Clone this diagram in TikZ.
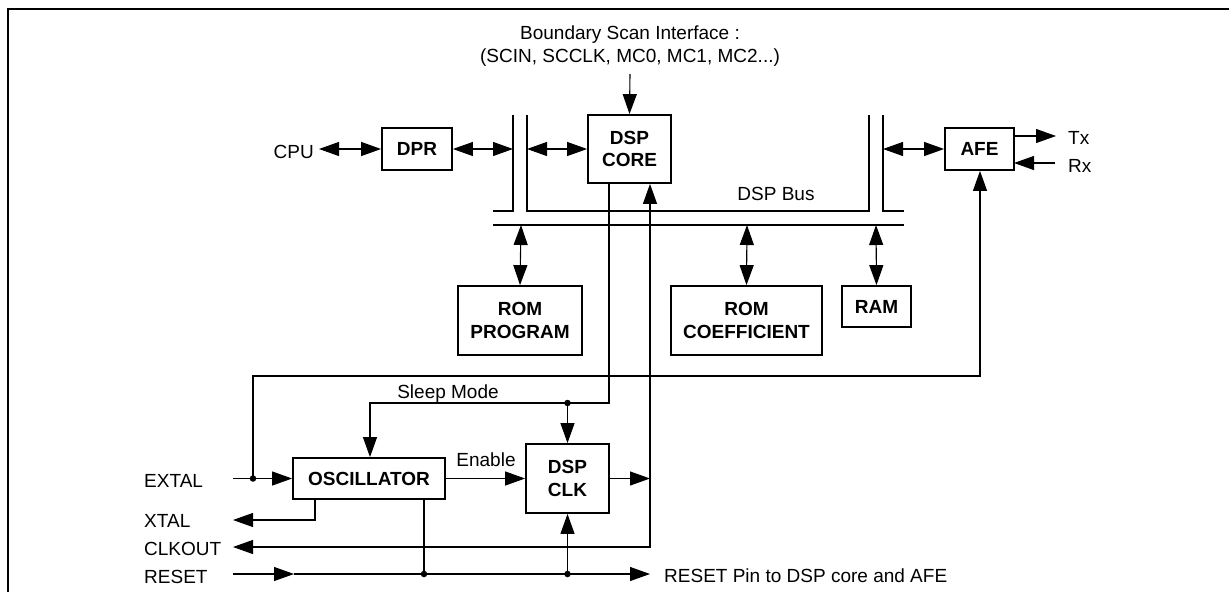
\documentclass[tikz,border=0pt]{standalone}
\usepackage{fontspec}
\setmainfont{Liberation Sans}
\usetikzlibrary{arrows.meta}
\begin{document}
\begin{tikzpicture}[x=1pt,y=-1pt,
  >={Triangle[length=20pt,width=14pt]},
  box/.style={draw,line width=1.8pt,inner sep=0pt,align=center,font=\bfseries\fontsize{19}{22.5}\selectfont},
  lbl/.style={inner sep=0pt,font=\fontsize{19}{23}\selectfont},
  conn/.style={line width=1.1pt},
  busline/.style={line width=1.4pt},
  dot/.style={circle,fill,inner sep=0pt,minimum size=6.5pt}
]
\useasboundingbox (0,0) rectangle (1229,592);
% frame
\draw[line width=2.6pt] (8,592) -- (8,9) -- (1229,9);

% boxes
\node[box,minimum width=70pt,minimum height=42pt] (dpr) at (417,149) {DPR};
\node[box,minimum width=83pt,minimum height=68pt] (core) at (629.5,149) {DSP\\CORE};
\node[box,minimum width=69pt,minimum height=42pt] (afe) at (979.5,149) {AFE};
\node[box,minimum width=124pt,minimum height=69pt] (rom) at (520,320.5) {ROM\\PROGRAM};
\node[box,minimum width=151pt,minimum height=69pt] (coef) at (746.5,320.5) {ROM\\COEFFICIENT};
\node[box,minimum width=69pt,minimum height=41pt] (ram) at (876.5,306.5) {RAM};
\node[box,minimum width=152pt,minimum height=41pt] (osc) at (369,478.5) {OSCILLATOR};
\node[box,minimum width=83pt,minimum height=69pt] (clk) at (567.5,478.5) {DSP\\CLK};

% labels
\node[lbl,anchor=base east] (cpu) at (314,158) {CPU};
\node[lbl,anchor=base] (bs1) at (630,39) {Boundary Scan Interface :};
\node[lbl,anchor=base] (bs2) at (630,62) {(SCIN, SCCLK, MC0, MC1, MC2...)};
\node[lbl,anchor=base] (busl) at (776,200) {DSP Bus};
\node[lbl,anchor=base west] (tx) at (1068,144) {Tx};
\node[lbl,anchor=base west] (rx) at (1068,172) {Rx};
\node[lbl,anchor=base] (sleep) at (448,398) {Sleep Mode};
\node[lbl,anchor=base] (en) at (486,466) {Enable};
\node[lbl,anchor=base west] (extal) at (144,487) {EXTAL};
\node[lbl,anchor=base west] (xtal) at (144,527) {XTAL};
\node[lbl,anchor=base west] (clkout) at (144,555) {CLKOUT};
\node[lbl,anchor=base west] (reset) at (144,583) {RESET};
\node[lbl,anchor=base west] (rpin) at (664,582) {RESET Pin to DSP core and AFE};

% coordinates
\coordinate (bsin) at (630,74);
\coordinate (cpuE) at (319,149);
\coordinate (b1) at (513,149);
\coordinate (b2) at (527,149);
\coordinate (b3) at (883,149);
\coordinate (txE) at (1056,136);
\coordinate (txS) at (1014,136);
\coordinate (rxS) at (1055,163);
\coordinate (rxE) at (1014,163);
\coordinate (r1) at (521,225);
\coordinate (r2) at (747,225);
\coordinate (r3) at (876,225);
\coordinate (inL) at (233,478.5);
\coordinate (dx) at (253,478.5);
\coordinate (sl) at (609,183);
\coordinate (sd) at (567.5,403);
\coordinate (clkoutL) at (233,547);
\coordinate (cko) at (650,547);
\coordinate (ckin) at (650,478.5);
\coordinate (xtS) at (315,499);
\coordinate (xtL) at (233,520);
\coordinate (rsL) at (233,574);
\coordinate (rsM) at (294,574);
\coordinate (rsE) at (650,574);
\coordinate (d1) at (424,574);
\coordinate (d2) at (567.5,574);

% bus
\draw[busline] (513,115) -- (513,211) -- (493,211);
\draw[busline] (527,115) -- (527,211) -- (869,211) -- (869,115);
\draw[busline] (883,115) -- (883,211) -- (904,211);
\draw[busline] (493,225) -- (904,225);

% connectors
\draw[conn,->] (bsin) -- (core.north);
\draw[conn,<->] (cpuE) -- (dpr.west);
\draw[conn,<->] (dpr.east) -- (b1);
\draw[conn,<->] (b2) -- (core.west);
\draw[conn,<->] (b3) -- (afe.west);
\draw[conn,->] (txS) -- (txE);
\draw[conn,->] (rxS) -- (rxE);
\draw[conn,<->] (r1) -- (rom.north);
\draw[conn,<->] (r2) -- (coef.north);
\draw[conn,<->] (r3) -- (ram.north);
\draw[conn,->] (dx) -- (253,376) -- (980,376) -- (afe.south -| 980,0);
\draw[conn,->] (sl) -- (609,403) -- (370,403) -- (osc.north -| 370,0);
\draw[conn,->] (sd) -- (clk.north);
\draw[conn,->] (inL) -- (osc.west);
\draw[conn,->] (osc.east) -- (clk.west);
\draw[conn,->] (clk.east) -- (ckin);
\draw[conn,<->] (clkoutL) -- (cko) -- (core.south -| cko);
\draw[conn,->] (xtS) -- (315,520) -- (xtL);
\draw[conn,->] (rsL) -- (rsM);
\draw[conn,->] (rsM) -- (rsE);
\draw[conn] (d1) -- (osc.south -| d1);
\draw[conn,->] (d2) -- (clk.south);

% dots
\node[dot] at (dx) {};
\node[dot] at (sd) {};
\node[dot] at (d1) {};
\node[dot] at (d2) {};
\end{tikzpicture}
\end{document}
